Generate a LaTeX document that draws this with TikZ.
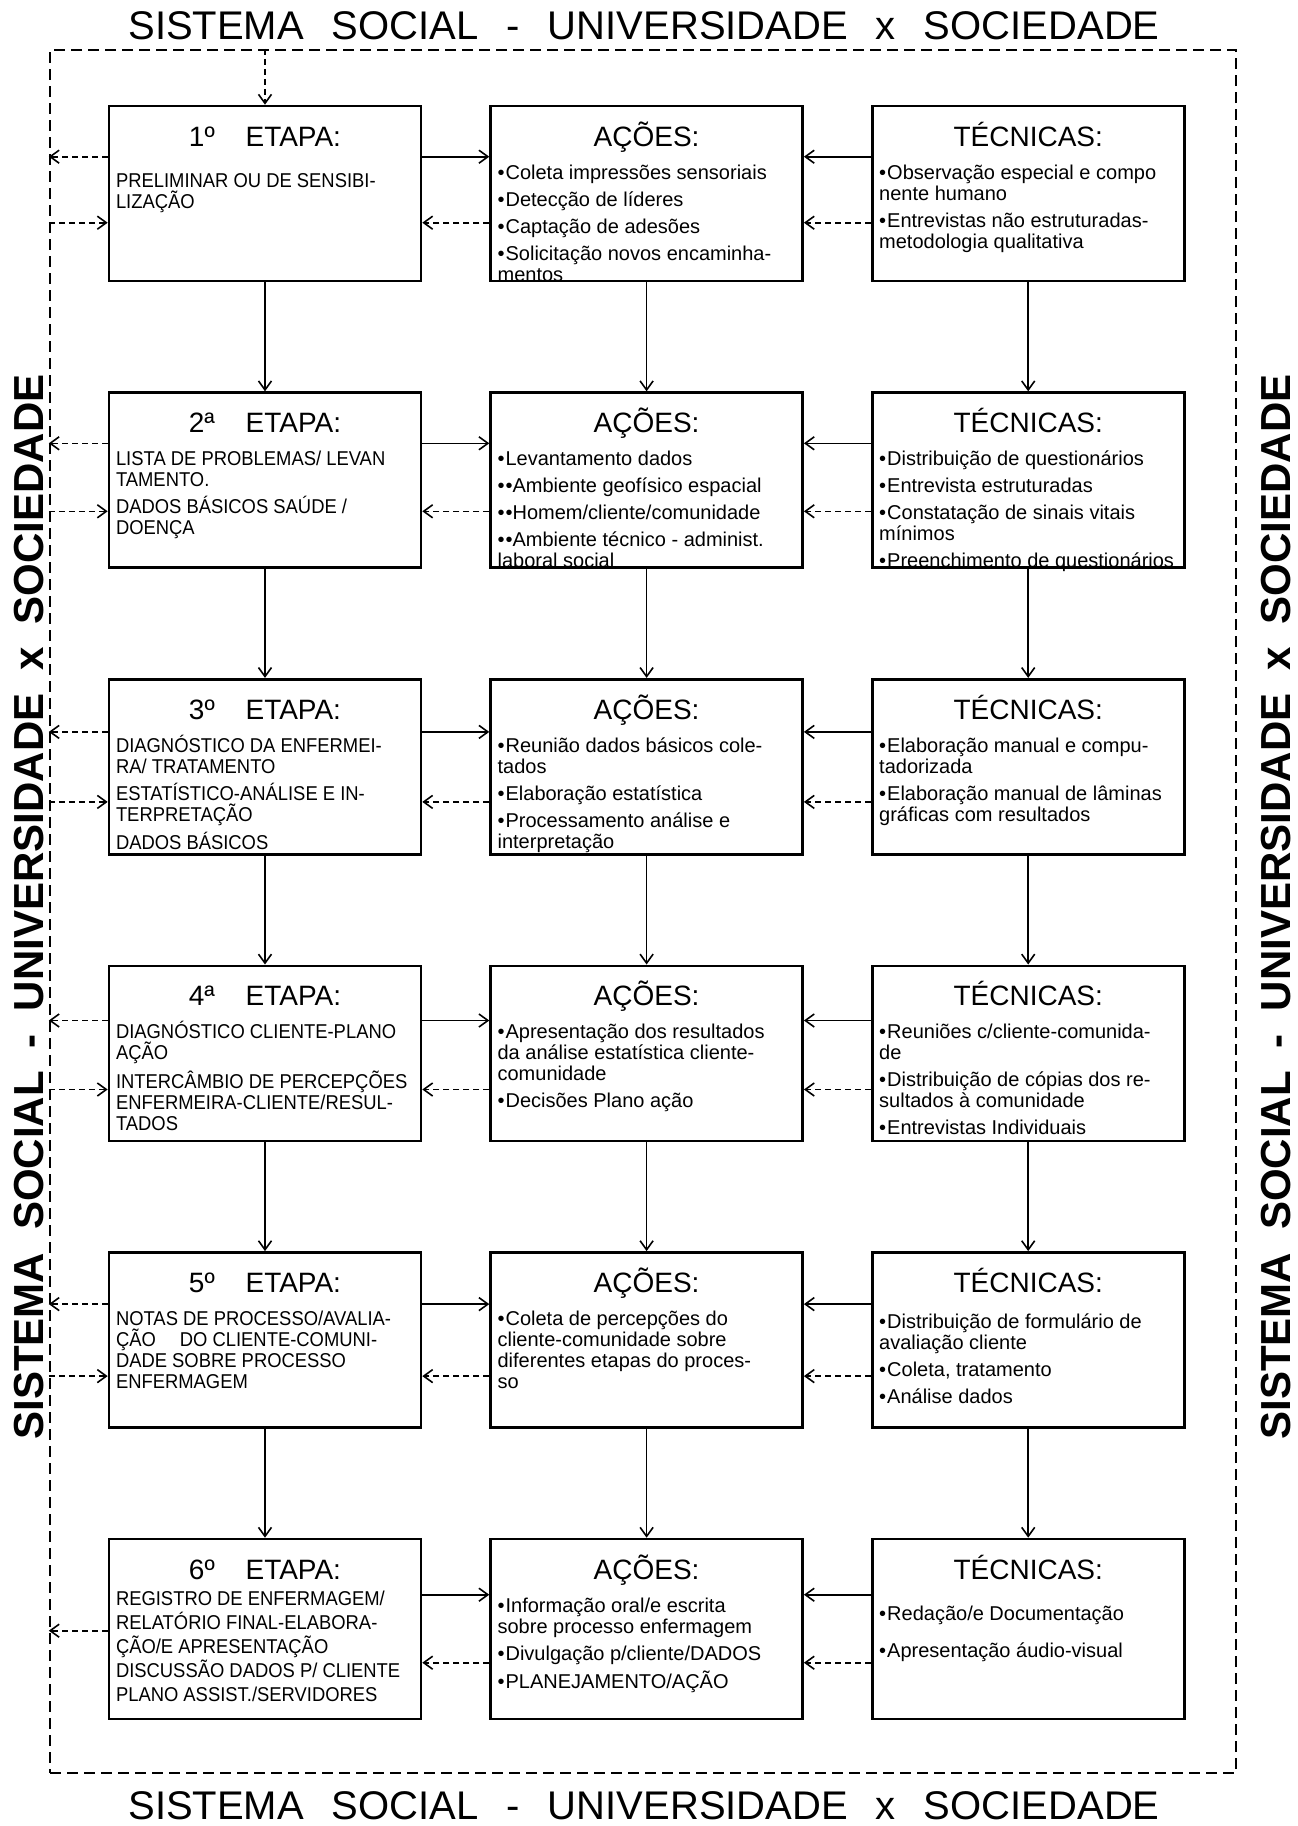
\documentclass[tikz,border=0pt]{standalone}
\usepackage{fontspec}
\setmainfont{Liberation Sans}
\newfontfamily\estreita{Liberation Sans}[FakeStretch=0.92]
\usetikzlibrary{positioning,calc,arrows.meta}
\tikzset{
  fluxo caixa/.style={rectangle, draw, line width=2.6pt, inner sep=2pt, minimum width=312pt, minimum height=175pt},
  fluxo moldura/.style={rectangle, draw, line width=2.4pt, dash pattern=on 11pt off 6pt},
  fluxo seta/.style={line width=1.6pt, -{Straight Barb[length=9pt, width=13pt]}},
  fluxo tracejada/.style={fluxo seta, dash pattern=on 6pt off 4pt},
  fluxo titulo/.style={font=\fontsize{40}{40}\selectfont},
  fluxo lado/.style={rotate=90, font=\bfseries\fontsize{42}{42}\selectfont}
}
\newcommand{\caixa}[3][171pt]{%
  \parbox[t][#1][t]{298pt}{\setlength{\parskip}{6pt}%
    \centering\fontsize{28}{28}\selectfont\rule{0pt}{38pt}#2\par\vspace{6pt}%
    \raggedright\fontsize{20}{21}\selectfont #3}}
\newcommand{\topico}{\par\hangindent=8pt\hangafter=1\textbullet\hspace{1pt}}
\newcommand{\etapa}[1]{#1\hspace{1.1em}ETAPA:}
\newcommand{\sistema}{SISTEMA\hspace{0.7em}SOCIAL\hspace{0.7em}-\hspace{0.7em}UNIVERSIDADE\hspace{0.7em}x\hspace{0.7em}SOCIEDADE}
\newcommand{\sistemalado}{SISTEMA\hspace{0.55em}SOCIAL\hspace{0.55em}-\hspace{0.55em}UNIVERSIDADE\hspace{0.55em}x\hspace{0.55em}SOCIEDADE}

\begin{document}
\begin{tikzpicture}[x=1pt, y=-1pt, node distance=109pt and 67pt]
    \useasboundingbox (0,0) rectangle (1298,1826);

    % Moldura e textos do sistema
    \node [fluxo moldura, minimum width=1186pt, minimum height=1723pt] (moldura) at (643,911.5) {};
    \node [fluxo titulo] (titulo topo) at (644,26) {\sistema};
    \node [fluxo titulo] (titulo base) at (644,1806) {\sistema};
    \node [fluxo lado] (lado esq) at (29,907) {\sistemalado};
    \node [fluxo lado] (lado dir) at (1276,907) {\sistemalado};

    % Etapa 1
    \node [fluxo caixa] (E1) at (265,193.5) {\caixa{\etapa{1º}}{\vspace{8pt}\estreita PRELIMINAR OU DE SENSIBI-\\LIZAÇÃO}};
    \node [fluxo caixa, right=of E1] (A1) {\caixa{AÇÕES:}{\topico Coleta impressões sensoriais \topico Detecção de líderes \topico Captação de adesões \topico Solicitação novos encaminha-\\mentos}};
    \node [fluxo caixa, right=of A1] (T1) {\caixa{TÉCNICAS:}{\topico Observação especial e compo\\nente humano \topico Entrevistas não estruturadas-\\metodologia qualitativa}};

    % Etapa 2
    \node [fluxo caixa, below=of E1] (E2) {\caixa{\etapa{2ª}}{\estreita LISTA DE PROBLEMAS/ LEVAN\\TAMENTO.\par DADOS BÁSICOS SAÚDE /\\DOENÇA}};
    \node [fluxo caixa, right=of E2] (A2) {\caixa{AÇÕES:}{\topico Levantamento dados \topico\textbullet Ambiente geofísico espacial \topico\textbullet Homem/cliente/comunidade \topico\textbullet Ambiente técnico - administ.\\laboral social}};
    \node [fluxo caixa, right=of A2] (T2) {\caixa{TÉCNICAS:}{\topico Distribuição de questionários \topico Entrevista estruturadas \topico Constatação de sinais vitais\\mínimos \topico Preenchimento de questionários}};

    % Etapa 3
    \node [fluxo caixa, below=of E2] (E3) {\caixa{\etapa{3º}}{\estreita DIAGNÓSTICO DA ENFERMEI-\\RA/ TRATAMENTO\par ESTATÍSTICO-ANÁLISE E IN-\\TERPRETAÇÃO\par DADOS BÁSICOS}};
    \node [fluxo caixa, right=of E3] (A3) {\caixa{AÇÕES:}{\topico Reunião dados básicos cole-\\tados \topico Elaboração estatística \topico Processamento análise e\\interpretação}};
    \node [fluxo caixa, right=of A3] (T3) {\caixa{TÉCNICAS:}{\topico Elaboração manual e compu-\\tadorizada \topico Elaboração manual de lâminas\\gráficas com resultados}};

    % Etapa 4
    \node [fluxo caixa, below=of E3] (E4) {\caixa{\etapa{4ª}}{\estreita DIAGNÓSTICO CLIENTE-PLANO\\AÇÃO\par \mbox{INTERCÂMBIO DE PERCEPÇÕES}\\ENFERMEIRA-CLIENTE/RESUL-\\TADOS}};
    \node [fluxo caixa, right=of E4] (A4) {\caixa{AÇÕES:}{\topico Apresentação dos resultados\\da análise estatística cliente-\\comunidade \topico Decisões Plano ação}};
    \node [fluxo caixa, right=of A4] (T4) {\caixa{TÉCNICAS:}{\topico Reuniões c/cliente-comunida-\\de \topico Distribuição de cópias dos re-\\sultados à comunidade \topico Entrevistas Individuais}};

    % Etapa 5
    \node [fluxo caixa, below=of E4] (E5) {\caixa{\etapa{5º}}{\estreita NOTAS DE PROCESSO/AVALIA-\\ÇÃO\hspace{1.2em}DO CLIENTE-COMUNI-\\DADE SOBRE PROCESSO\\ENFERMAGEM}};
    \node [fluxo caixa, right=of E5] (A5) {\caixa{AÇÕES:}{\topico Coleta de percepções do\\cliente-comunidade sobre\\diferentes etapas do proces-\\so}};
    \node [fluxo caixa, right=of A5] (T5) {\caixa{TÉCNICAS:}{\vspace{3pt}\topico Distribuição de formulário de\\avaliação cliente \topico Coleta, tratamento \topico Análise dados}};

    % Etapa 6
    \node [fluxo caixa, minimum height=180pt, below=of E5] (E6) {\caixa[176pt]{\etapa{6º}}{\vspace{-10pt}\fontsize{20}{24}\selectfont\estreita REGISTRO DE ENFERMAGEM/\\RELATÓRIO FINAL-ELABORA-\\ÇÃO/E APRESENTAÇÃO\\DISCUSSÃO DADOS P/ CLIENTE\\PLANO ASSIST./SERVIDORES}};
    \node [fluxo caixa, minimum height=180pt, right=of E6] (A6) {\caixa[176pt]{AÇÕES:}{\topico Informação oral/e escrita\\sobre processo enfermagem \topico Divulgação p/cliente/DADOS \topico PLANEJAMENTO/AÇÃO}};
    \node [fluxo caixa, minimum height=180pt, right=of A6] (T6) {\caixa[176pt]{TÉCNICAS:}{\vspace{8pt}\topico Redação/e Documentação\par\vspace{10pt}\topico Apresentação áudio-visual}};

    % Entrada do sistema
    \draw [fluxo tracejada] (E1.north |- moldura.north) -- (E1.north);

    % Setas verticais
    \draw [fluxo seta] (E1) -- (E2);
    \draw [fluxo seta] (E2) -- (E3);
    \draw [fluxo seta] (E3) -- (E4);
    \draw [fluxo seta] (E4) -- (E5);
    \draw [fluxo seta] (E5) -- (E6);
    \draw [fluxo seta] (A1) -- (A2);
    \draw [fluxo seta] (A2) -- (A3);
    \draw [fluxo seta] (A3) -- (A4);
    \draw [fluxo seta] (A4) -- (A5);
    \draw [fluxo seta] (A5) -- (A6);
    \draw [fluxo seta] (T1) -- (T2);
    \draw [fluxo seta] (T2) -- (T3);
    \draw [fluxo seta] (T3) -- (T4);
    \draw [fluxo seta] (T4) -- (T5);
    \draw [fluxo seta] (T5) -- (T6);

    % Etapa 1 - conexoes
    \draw [fluxo seta] ([yshift=-52pt]E1.north east) -- ([yshift=-52pt]A1.north west);
    \draw [fluxo seta] ([yshift=-52pt]T1.north west) -- ([yshift=-52pt]A1.north east);
    \draw [fluxo tracejada] ([yshift=-118pt]A1.north west) -- ([yshift=-118pt]E1.north east);
    \draw [fluxo tracejada] ([yshift=-118pt]T1.north west) -- ([yshift=-118pt]A1.north east);
    \draw [fluxo tracejada] ([yshift=-52pt]E1.north west) -- ([yshift=-52pt]E1.north west -| moldura.west);
    \draw [fluxo tracejada] ([yshift=-118pt]E1.north west -| moldura.west) -- ([yshift=-118pt]E1.north west);

    % Etapa 2 - conexoes
    \draw [fluxo seta] ([yshift=-52pt]E2.north east) -- ([yshift=-52pt]A2.north west);
    \draw [fluxo seta] ([yshift=-52pt]T2.north west) -- ([yshift=-52pt]A2.north east);
    \draw [fluxo tracejada] ([yshift=-120pt]A2.north west) -- ([yshift=-120pt]E2.north east);
    \draw [fluxo tracejada] ([yshift=-120pt]T2.north west) -- ([yshift=-120pt]A2.north east);
    \draw [fluxo tracejada] ([yshift=-52pt]E2.north west) -- ([yshift=-52pt]E2.north west -| moldura.west);
    \draw [fluxo tracejada] ([yshift=-120pt]E2.north west -| moldura.west) -- ([yshift=-120pt]E2.north west);

    % Etapa 3 - conexoes
    \draw [fluxo seta] ([yshift=-54pt]E3.north east) -- ([yshift=-54pt]A3.north west);
    \draw [fluxo seta] ([yshift=-54pt]T3.north west) -- ([yshift=-54pt]A3.north east);
    \draw [fluxo tracejada] ([yshift=-124pt]A3.north west) -- ([yshift=-124pt]E3.north east);
    \draw [fluxo tracejada] ([yshift=-124pt]T3.north west) -- ([yshift=-124pt]A3.north east);
    \draw [fluxo tracejada] ([yshift=-54pt]E3.north west) -- ([yshift=-54pt]E3.north west -| moldura.west);
    \draw [fluxo tracejada] ([yshift=-124pt]E3.north west -| moldura.west) -- ([yshift=-124pt]E3.north west);

    % Etapa 4 - conexoes
    \draw [fluxo seta] ([yshift=-56pt]E4.north east) -- ([yshift=-56pt]A4.north west);
    \draw [fluxo seta] ([yshift=-56pt]T4.north west) -- ([yshift=-56pt]A4.north east);
    \draw [fluxo tracejada] ([yshift=-125pt]A4.north west) -- ([yshift=-125pt]E4.north east);
    \draw [fluxo tracejada] ([yshift=-125pt]T4.north west) -- ([yshift=-125pt]A4.north east);
    \draw [fluxo tracejada] ([yshift=-56pt]E4.north west) -- ([yshift=-56pt]E4.north west -| moldura.west);
    \draw [fluxo tracejada] ([yshift=-125pt]E4.north west -| moldura.west) -- ([yshift=-125pt]E4.north west);

    % Etapa 5 - conexoes
    \draw [fluxo seta] ([yshift=-53pt]E5.north east) -- ([yshift=-53pt]A5.north west);
    \draw [fluxo seta] ([yshift=-53pt]T5.north west) -- ([yshift=-53pt]A5.north east);
    \draw [fluxo tracejada] ([yshift=-125pt]A5.north west) -- ([yshift=-125pt]E5.north east);
    \draw [fluxo tracejada] ([yshift=-125pt]T5.north west) -- ([yshift=-125pt]A5.north east);
    \draw [fluxo tracejada] ([yshift=-53pt]E5.north west) -- ([yshift=-53pt]E5.north west -| moldura.west);
    \draw [fluxo tracejada] ([yshift=-125pt]E5.north west -| moldura.west) -- ([yshift=-125pt]E5.north west);

    % Etapa 6 - conexoes
    \draw [fluxo seta] ([yshift=-57pt]E6.north east) -- ([yshift=-57pt]A6.north west);
    \draw [fluxo seta] ([yshift=-57pt]T6.north west) -- ([yshift=-57pt]A6.north east);
    \draw [fluxo tracejada] ([yshift=-125pt]A6.north west) -- ([yshift=-125pt]E6.north east);
    \draw [fluxo tracejada] ([yshift=-125pt]T6.north west) -- ([yshift=-125pt]A6.north east);
    \draw [fluxo tracejada] ([yshift=-93pt]E6.north west) -- ([yshift=-93pt]E6.north west -| moldura.west);
\end{tikzpicture}
\end{document}
